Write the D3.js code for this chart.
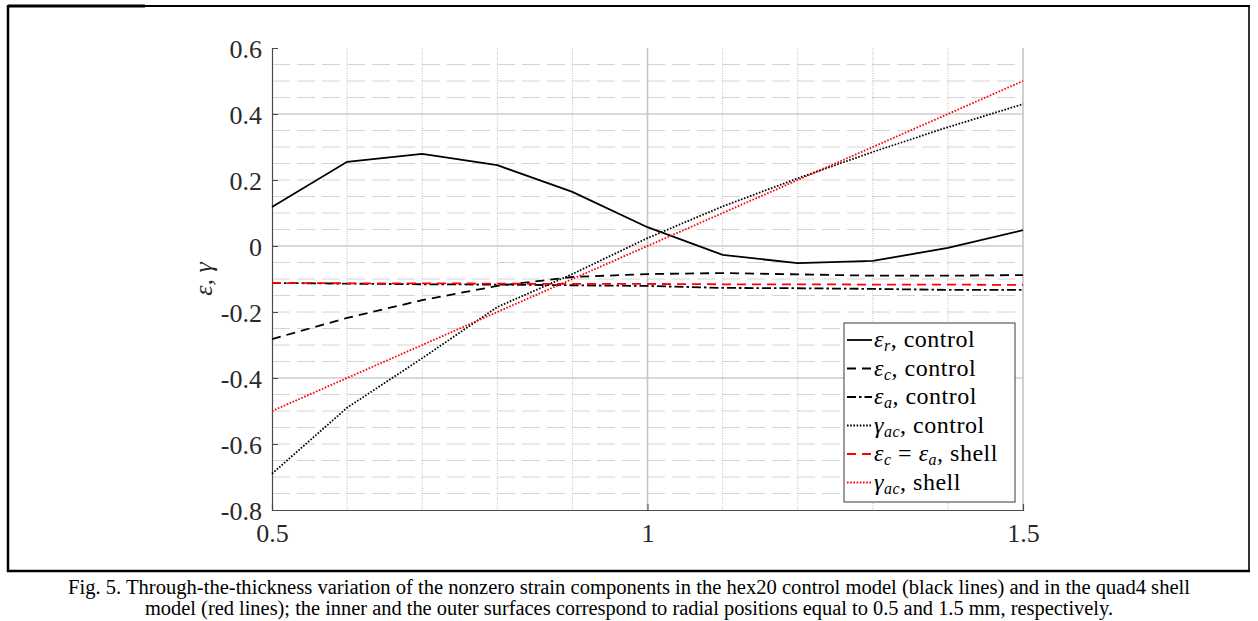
<!DOCTYPE html>
<html lang="en">
<head>
<meta charset="utf-8">
<title>Strain components through the thickness</title>
<script src="https://cdn.jsdelivr.net/npm/d3@7"></script>
<style>
  body { margin: 0; background: #fff; }
  svg { display: block; }
  text { font-family: "Liberation Serif", "Times New Roman", serif; }
</style>
</head>
<body>
<script>
// radial position (mm)
var radius = [0.5, 0.6, 0.7, 0.8, 0.9, 1.0, 1.1, 1.2, 1.3, 1.4, 1.5];
// hex20 control model
var epsRControl = [0.118, 0.255, 0.279, 0.245, 0.164, 0.057, -0.027, -0.052, -0.045, -0.006, 0.048];
var epsCControl = [-0.282, -0.218, -0.164, -0.121, -0.094, -0.085, -0.082, -0.086, -0.090, -0.090, -0.088];
var epsAControl = [-0.112, -0.114, -0.116, -0.117, -0.119, -0.121, -0.127, -0.128, -0.130, -0.133, -0.133];
var gamControl = [-0.690, -0.490, -0.340, -0.185, -0.085, 0.024, 0.120, 0.205, 0.285, 0.360, 0.430];
// quad4 shell model
var epsShell = [-0.112, -0.113, -0.113, -0.114, -0.115, -0.115, -0.116, -0.116, -0.117, -0.117, -0.118];
var gamShell = [-0.5, -0.4, -0.3, -0.2, -0.1, 0.0, 0.1, 0.2, 0.3, 0.4, 0.5];

var xTicks = [0.5, 1, 1.5];
var yTicks = [-0.8, -0.6, -0.4, -0.2, 0, 0.2, 0.4, 0.6];
var yMajorGrid = [-0.4, 0, 0.4];
var xMajorGrid = [1, 1.5];

var captionLines = [
  "Fig. 5. Through-the-thickness variation of the nonzero strain components in the hex20 control model (black lines) and in the quad4 shell",
  "model (red lines); the inner and the outer surfaces correspond to radial positions equal to 0.5 and 1.5 mm, respectively."
];

var W = 1258, H = 621;
var plotL = 272, plotR = 1023, plotT = 48, plotB = 510;

var svg = d3.select("body").append("svg")
  .attr("width", W)
  .attr("height", H);

// outer frame of the figure
svg.append("rect").attr("x", 8).attr("y", 5).attr("width", 1242).attr("height", 2)
  .attr("fill", "#000");
svg.append("rect").attr("x", 8).attr("y", 4.5).attr("width", 137).attr("height", 3)
  .attr("fill", "#000");
svg.append("line").attr("x1", 8).attr("x2", 8).attr("y1", 5).attr("y2", 572)
  .attr("stroke", "#000").attr("stroke-width", 2.5);
svg.append("line").attr("x1", 1249).attr("x2", 1249).attr("y1", 5).attr("y2", 572)
  .attr("stroke", "#000").attr("stroke-width", 1.6);
svg.append("line").attr("x1", 7).attr("x2", 1250).attr("y1", 571).attr("y2", 571)
  .attr("stroke", "#000").attr("stroke-width", 2.5);

var x = d3.scaleLinear().domain([0.5, 1.5]).range([plotL, plotR]);
var y = d3.scaleLinear().domain([-0.8, 0.6]).range([plotB, plotT]);

// minor grid
var yMinor = d3.range(-0.75, 0.6, 0.05).map(function(d) { return Math.round(d * 100) / 100; })
  .filter(function(d) { return yMajorGrid.indexOf(d) === -1; });
var xMinor = [0.6, 0.7, 0.8, 0.9, 1.1, 1.2, 1.3, 1.4];

svg.append("g").selectAll("line").data(yMinor).enter().append("line")
  .attr("x1", plotL).attr("x2", plotR)
  .attr("y1", function(d) { return y(d); }).attr("y2", function(d) { return y(d); })
  .attr("stroke", "#d4d4d4").attr("stroke-width", 1)
  .attr("stroke-dasharray", "18,7");
svg.append("g").selectAll("line").data(xMinor).enter().append("line")
  .attr("x1", function(d) { return x(d); }).attr("x2", function(d) { return x(d); })
  .attr("y1", plotT).attr("y2", plotB)
  .attr("stroke", "#bdbdbd").attr("stroke-width", 1)
  .attr("stroke-dasharray", "1,1.5");

// major grid
svg.append("g").selectAll("line").data(yMajorGrid).enter().append("line")
  .attr("x1", plotL).attr("x2", plotR)
  .attr("y1", function(d) { return y(d); }).attr("y2", function(d) { return y(d); })
  .attr("stroke", "#b4b4b4").attr("stroke-width", 1.2);
svg.append("g").selectAll("line").data(xMajorGrid).enter().append("line")
  .attr("x1", function(d) { return x(d); }).attr("x2", function(d) { return x(d); })
  .attr("y1", plotT).attr("y2", plotB)
  .attr("stroke", "#c4c4c4").attr("stroke-width", 1.6);

// axes
var yAxis = svg.append("g")
  .attr("transform", "translate(" + plotL + ",0)")
  .call(d3.axisLeft(y).tickValues(yTicks).tickSize(-6).tickPadding(10)
    .tickFormat(function(d) { return d === 0 ? "0" : d3.format(".1f")(d).replace("\u2212", "-"); }));
var xAxis = svg.append("g")
  .attr("transform", "translate(0," + plotB + ")")
  .call(d3.axisBottom(x).tickValues(xTicks).tickSize(-6).tickPadding(13)
    .tickFormat(function(d) { return d3.format("")(d); }));

[yAxis, xAxis].forEach(function(ax) {
  ax.attr("font-family", null);
  ax.select(".domain").attr("stroke", "#4a4a4a").attr("stroke-width", 1.2);
  ax.selectAll(".tick line").attr("stroke", "#4a4a4a");
  ax.selectAll(".tick text")
    .attr("fill", "#2a2a2a")
    .style("font-size", "26px");
});
yAxis.selectAll(".tick text").attr("dy", "0.36em");
xAxis.selectAll(".tick text").attr("dy", "0.72em");

// axis label
svg.append("text")
  .attr("transform", "translate(212," + ((plotT + plotB) / 2) + ") rotate(-90)")
  .attr("text-anchor", "middle")
  .style("font-size", "26px")
  .attr("font-style", "italic")
  .attr("fill", "#262626")
  .text("\u03b5, \u03b3");

// series
var series = [
  { name: "r", values: epsRControl, color: "#000", dash: null, width: 1.8 },
  { name: "c", values: epsCControl, color: "#000", dash: "9,6", width: 1.8 },
  { name: "a", values: epsAControl, color: "#000", dash: "9,3,2.5,3", width: 1.8 },
  { name: "gc", values: gamControl, color: "#000", dash: "1.6,1.6", width: 1.8 },
  { name: "s", values: epsShell, color: "#ff0000", dash: "9,6", width: 1.8 },
  { name: "gs", values: gamShell, color: "#ff0000", dash: "1.6,1.6", width: 1.8 }
];

var line = d3.line()
  .x(function(d, i) { return x(radius[i]); })
  .y(function(d) { return y(d); });

svg.append("g").selectAll("path").data(series).enter().append("path")
  .attr("d", function(d) { return line(d.values); })
  .attr("fill", "none")
  .attr("stroke", function(d) { return d.color; })
  .attr("stroke-width", function(d) { return d.width; })
  .attr("stroke-dasharray", function(d) { return d.dash; });

// legend
var lg = svg.append("g").attr("transform", "translate(844,323)");
lg.append("rect")
  .attr("width", 171).attr("height", 179)
  .attr("fill", "#fff").attr("stroke", "#3a3a3a").attr("stroke-width", 1);

var legendRows = [
  { s: series[0], parts: [["\u03b5", "i"], ["r", "sub"], [", control", ""]] },
  { s: series[1], parts: [["\u03b5", "i"], ["c", "sub"], [", control", ""]] },
  { s: series[2], parts: [["\u03b5", "i"], ["a", "sub"], [", control", ""]] },
  { s: series[3], parts: [["\u03b3", "i"], ["ac", "sub"], [", control", ""]] },
  { s: series[4], parts: [["\u03b5", "i"], ["c", "sub"], [" = ", ""], ["\u03b5", "i"], ["a", "sub"], [", shell", ""]] },
  { s: series[5], parts: [["\u03b3", "i"], ["ac", "sub"], [", shell", ""]] }
];

legendRows.forEach(function(row, i) {
  var cy = 17 + i * 28.5;
  lg.append("line")
    .attr("x1", 3).attr("x2", 28).attr("y1", cy).attr("y2", cy)
    .attr("stroke", row.s.color).attr("stroke-width", 1.8)
    .attr("stroke-dasharray", row.s.dash);
  var t = lg.append("text")
    .attr("x", 30).attr("y", cy + 7)
    .style("font-size", "24px")
    .style("letter-spacing", "0.5px")
    .attr("fill", "#000");
  var shifted = false;
  row.parts.forEach(function(p) {
    var ts = t.append("tspan").text(p[0]);
    if (p[1] === "sub") {
      ts.attr("font-style", "italic").style("font-size", "16px").attr("dy", 4);
      shifted = true;
      return;
    }
    if (p[1] === "i") ts.attr("font-style", "italic");
    if (shifted) { ts.attr("dy", -4); shifted = false; }
  });
});

// caption
var cap = svg.append("g");
cap.selectAll("text").data(captionLines).enter().append("text")
  .attr("x", W / 2)
  .attr("y", function(d, i) { return 594 + i * 21; })
  .attr("text-anchor", "middle")
  .style("font-size", "20px")
  .attr("fill", "#000")
  .attr("textLength", function(d, i) { return i === 0 ? 1122 : 968; })
  .attr("lengthAdjust", "spacingAndGlyphs")
  .text(function(d) { return d; });
</script>
</body>
</html>
